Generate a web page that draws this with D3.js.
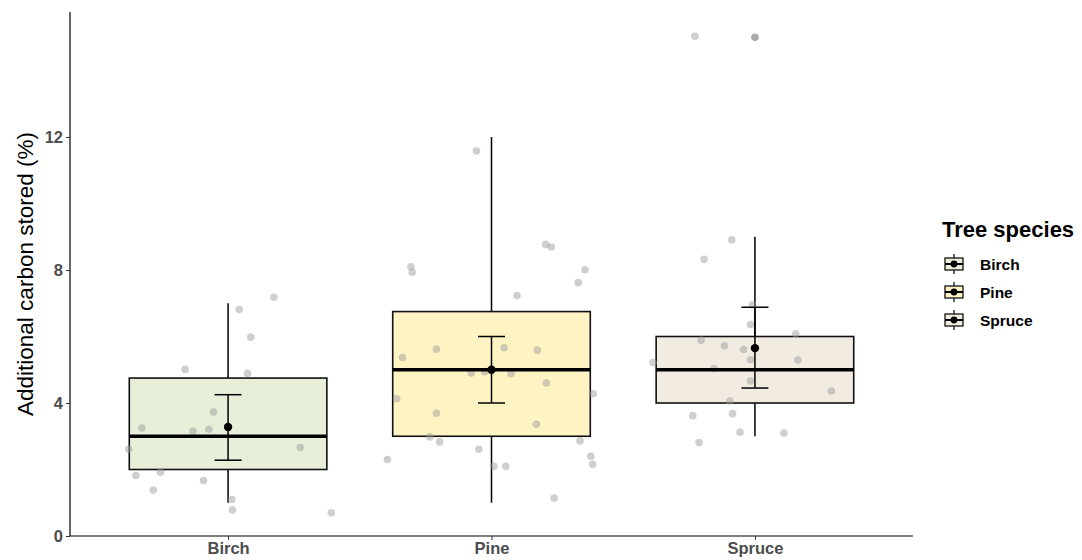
<!DOCTYPE html>
<html>
<head>
<meta charset="utf-8">
<script src="https://cdn.jsdelivr.net/npm/d3@7"></script>
<style>
	body { margin: 0; background: #fff; }
	text { font-family: "Liberation Sans", Arial, sans-serif; }
	.tick text { font-weight: bold; fill: #4d4d4d; font-size: 16.5px; }
</style>
</head>
<body>
<script>
// categories and summary values
var species = ["Birch", "Pine", "Spruce"];
var fills = ["#e7efd8", "#fef3c3", "#f2ebe2"];
var q1 = [2, 3, 4];
var medians = [3, 5, 5];
var q3 = [4.75, 6.75, 6];
var whiskLo = [1, 1, 3];
var whiskHi = [7, 12, 9];
var means = [3.28, 5.0, 5.65];
var errLo = [2.28, 4.0, 4.45];
var errHi = [4.25, 6.0, 6.88];
var outliers = [[], [], [15]];
var yTicks = [0, 4, 8, 12];

// jittered raw values: [value, jitter offset in category units]
var birchPts = [[7.18,0.174],[6.81,0.042],[5.98,0.086],[5.01,-0.163],[4.89,0.074],[3.73,-0.055],
	[3.25,-0.327],[3.15,-0.133],[3.21,-0.073],[2.61,-0.377],[2.66,0.274],[1.82,-0.350],
	[1.92,-0.257],[1.67,-0.093],[1.38,-0.284],[1.10,0.014],[0.78,0.017],[0.70,0.392]];
var pinePts = [[11.58,-0.057],[8.77,0.206],[8.69,0.227],[8.10,-0.306],[7.93,-0.301],[8.01,0.355],
	[7.62,0.329],[7.23,0.097],[5.62,-0.209],[5.37,-0.338],[5.66,0.048],[5.59,0.174],
	[4.90,-0.077],[4.94,-0.026],[4.88,0.074],[4.60,0.208],[4.13,-0.360],[4.28,0.386],
	[3.69,-0.209],[3.36,0.170],[2.98,-0.234],[2.83,-0.197],[2.86,0.336],[2.30,-0.395],
	[2.61,-0.048],[2.10,0.009],[2.10,0.054],[2.40,0.377],[2.16,0.384],[1.14,0.238]];
var sprucePts = [[15.03,-0.228],[8.91,-0.088],[8.32,-0.193],[6.95,-0.009],[6.36,-0.017],[6.08,0.155],
	[5.89,-0.204],[5.72,-0.116],[5.61,-0.043],[5.22,-0.387],[5.30,-0.017],[5.29,0.163],
	[5.04,-0.155],[4.66,-0.017],[4.36,0.290],[4.06,-0.095],[3.62,-0.236],[3.68,-0.085],
	[3.12,-0.057],[3.10,0.110],[2.81,-0.212]];
var allPts = [birchPts, pinePts, sprucePts];

var w = 1082, h = 560;
var padL = 70, padR = 913, padT = 12, padB = 536;

var svg = d3.select("body").append("svg")
	.attr("width", w)
	.attr("height", h);

// discrete x with ggplot-like 0.6 expansion
var x = d3.scaleLinear()
	.domain([-0.6, species.length - 1 + 0.6])
	.range([padL, padR]);
var step = x(1) - x(0);
var boxW = 0.75 * step;
var capW = 27;

var y = d3.scaleLinear()
	.domain([0, 15.76])
	.range([padB, padT]);

var groups = species.map((s, i) => ({
	name: s, i: i, fill: fills[i], q1: q1[i], med: medians[i], q3: q3[i],
	lo: whiskLo[i], hi: whiskHi[i], mean: means[i], eLo: errLo[i], eHi: errHi[i],
	out: outliers[i], pts: allPts[i]
}));

var g = svg.append("g");

// whiskers
g.selectAll("line.whisk")
	.data(groups)
	.enter().append("line")
	.attr("class", "whisk")
	.attr("x1", d => x(d.i)).attr("x2", d => x(d.i))
	.attr("y1", d => y(d.lo)).attr("y2", d => y(d.hi))
	.attr("stroke", "#000").attr("stroke-width", 1.5);

// boxes
g.selectAll("rect.box")
	.data(groups)
	.enter().append("rect")
	.attr("class", "box")
	.attr("x", d => x(d.i) - boxW / 2)
	.attr("y", d => y(d.q3))
	.attr("width", boxW)
	.attr("height", d => y(d.q1) - y(d.q3))
	.attr("fill", d => d.fill)
	.attr("stroke", "#111").attr("stroke-width", 1.6);

// outliers
groups.forEach(d => {
	g.selectAll(null)
		.data(d.out)
		.enter().append("circle")
		.attr("cx", x(d.i))
		.attr("cy", v => y(v))
		.attr("r", 3.8)
		.attr("fill", "#9a9a9a").attr("fill-opacity", 0.85);
});

// jitter points
groups.forEach(d => {
	g.selectAll(null)
		.data(d.pts)
		.enter().append("circle")
		.attr("cx", p => x(d.i + p[1]))
		.attr("cy", p => y(p[0]))
		.attr("r", 3.8)
		.attr("fill", "#9b9b9b").attr("fill-opacity", 0.48);
});

// medians
g.selectAll("line.med")
	.data(groups)
	.enter().append("line")
	.attr("x1", d => x(d.i) - boxW / 2).attr("x2", d => x(d.i) + boxW / 2)
	.attr("y1", d => y(d.med)).attr("y2", d => y(d.med))
	.attr("stroke", "#000").attr("stroke-width", 3.4);

// error bars round the mean
g.selectAll("line.err")
	.data(groups)
	.enter().append("line")
	.attr("x1", d => x(d.i)).attr("x2", d => x(d.i))
	.attr("y1", d => y(d.eLo)).attr("y2", d => y(d.eHi))
	.attr("stroke", "#000").attr("stroke-width", 1.5);
["eLo", "eHi"].forEach(k => {
	g.selectAll(null)
		.data(groups)
		.enter().append("line")
		.attr("x1", d => x(d.i) - capW / 2).attr("x2", d => x(d.i) + capW / 2)
		.attr("y1", d => y(d[k])).attr("y2", d => y(d[k]))
		.attr("stroke", "#000").attr("stroke-width", 1.5);
});
g.selectAll("circle.mean")
	.data(groups)
	.enter().append("circle")
	.attr("cx", d => x(d.i))
	.attr("cy", d => y(d.mean))
	.attr("r", 4.2)
	.attr("fill", "#000");

// axes
var xAxis = d3.axisBottom(x)
	.tickValues(species.map((s, i) => i))
	.tickFormat(i => species[i])
	.tickSize(4).tickPadding(2);
var yAxis = d3.axisLeft(y)
	.tickValues(yTicks)
	.tickSize(4).tickPadding(3);

var xg = svg.append("g")
	.attr("transform", "translate(0," + padB + ")")
	.call(xAxis);
var yg = svg.append("g")
	.attr("transform", "translate(" + padL + ",0)")
	.call(yAxis);
[xg, yg].forEach(a => {
	a.select(".domain").attr("stroke", "#000").attr("stroke-width", 1.2);
	a.selectAll(".tick line").attr("stroke", "#333");
});
xg.select(".domain").attr("d", "M" + padL + ",0H" + padR);
yg.select(".domain").attr("d", "M0," + padT + "V" + padB);

svg.append("text")
	.text("Additional carbon stored (%)")
	.attr("transform", "rotate(-90)")
	.attr("x", -(padT + padB) / 2)
	.attr("y", 33)
	.attr("text-anchor", "middle")
	.attr("font-size", "22.5px")
	.attr("fill", "#000");

// legend
var lg = svg.append("g").attr("transform", "translate(942,0)");
lg.append("text")
	.text("Tree species")
	.attr("x", 0).attr("y", 237)
	.attr("font-size", "22px")
	.attr("font-weight", "bold");

var keys = lg.selectAll("g.key")
	.data(groups)
	.enter().append("g")
	.attr("transform", (d, i) => "translate(0," + (264 + i * 28) + ")");
keys.append("line")
	.attr("x1", 12).attr("x2", 12).attr("y1", -10).attr("y2", 10)
	.attr("stroke", "#000").attr("stroke-width", 1.2);
keys.append("rect")
	.attr("x", 3).attr("y", -6).attr("width", 18).attr("height", 12)
	.attr("fill", d => d.fill)
	.attr("stroke", "#111").attr("stroke-width", 1.3);
keys.append("line")
	.attr("x1", 3).attr("x2", 21).attr("y1", 0).attr("y2", 0)
	.attr("stroke", "#000").attr("stroke-width", 2);
keys.append("circle")
	.attr("cx", 12).attr("cy", 0).attr("r", 3.4)
	.attr("fill", "#000");
keys.append("text")
	.text(d => d.name)
	.attr("x", 38).attr("y", 5.5)
	.attr("font-size", "15.5px")
	.attr("font-weight", "bold");
</script>
</body>
</html>
